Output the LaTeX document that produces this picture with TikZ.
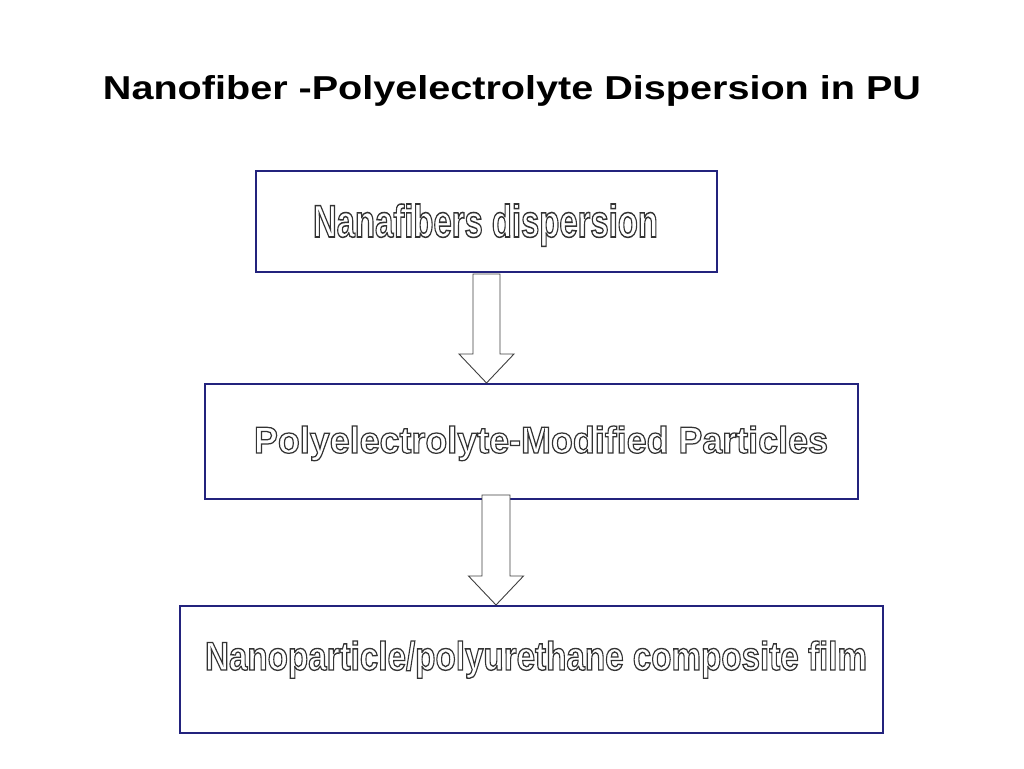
\documentclass[tikz,border=0pt]{standalone}
\usepackage{fontspec}
\setmainfont{Liberation Sans}
\usepackage{graphicx}
\usepackage{tikz}
\usetikzlibrary{calc}
\definecolor{boxblue}{RGB}{35,35,125}
\newcommand{\outlined}[3]{\resizebox{#1}{#2}{\special{pdf:literal direct 1 Tr 1.2 w}#3\special{pdf:literal direct 0 Tr}}}

\begin{document}
\begin{tikzpicture}[x=1pt, y=1pt, box/.style = {draw=boxblue, line width=2pt, fill=white, minimum width=#1}, word/.style = {anchor=base, inner sep=0pt, text=black!80, font=\bfseries\fontsize{36}{40}\selectfont}, blockarrow/.style = {draw=black!75, line width=0.9pt, fill=white, line join=miter}]
\useasboundingbox (0,0) rectangle (1024,768);
\node[anchor=base, inner sep=0pt, font=\bfseries\fontsize{32}{38}\selectfont] (title) at (512,668) {\resizebox{818pt}{24pt}{Nanofiber -Polyelectrolyte Dispersion in PU}};
\node[box=461pt, minimum height=101pt] (0) at (486.5,546.5) {};
\node[box=653pt, minimum height=115pt] (1) at (531.5,326.5) {};
\node[box=703pt, minimum height=127pt] (2) at (531.5,98.5) {};
\node[word] (t0) at ([shift={(-1,-15.5)}]0.center) {\outlined{345pt}{33pt}{Nanafibers dispersion}};
\node[word] (t1) at ([shift={(9.5,-11.5)}]1.center) {\outlined{574pt}{27pt}{Polyelectrolyte-Modified Particles}};
\node[word] (t2) at ([shift={(4.5,-0.5)}]2.center) {\outlined{662pt}{29pt}{Nanoparticle/polyurethane composite film}};
\coordinate (a) at (0.south |- 1.north);
\coordinate (b) at ([xshift=-35.5]1.south |- 2.north);
\draw[blockarrow] ([shift={(-13.5,-1)}]0.south) -- ([shift={(-13.5,29)}]a) -- ([shift={(-27.5,29)}]a) -- (a) -- ([shift={(27.5,29)}]a) -- ([shift={(13.5,29)}]a) -- ([shift={(13.5,-1)}]0.south) -- cycle;
\draw[blockarrow] ([shift={(-49.5,5)}]1.south) -- ([shift={(-14,29)}]b) -- ([shift={(-27.5,29)}]b) -- (b) -- ([shift={(27.5,29)}]b) -- ([shift={(14,29)}]b) -- ([shift={(-21.5,5)}]1.south) -- cycle;
\end{tikzpicture}
\end{document}
